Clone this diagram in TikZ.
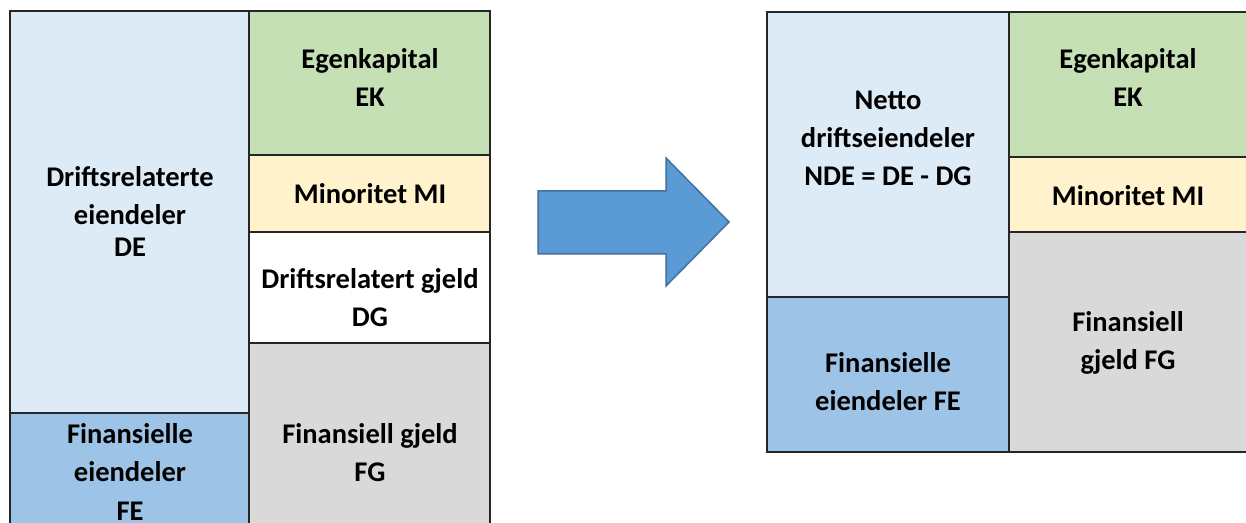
\documentclass[tikz,border=0pt]{standalone}
\usepackage{fontspec}
\setmainfont{Carlito}
\definecolor{delight}{RGB}{221,235,247}
\definecolor{fegreen}{RGB}{157,195,230}
\definecolor{ekgreen}{RGB}{197,224,180}
\definecolor{miyellow}{RGB}{255,242,204}
\definecolor{fggray}{RGB}{217,217,217}
\definecolor{arrowfill}{RGB}{91,155,213}
\definecolor{arrowline}{RGB}{65,113,156}
\tikzset{
  cell/.style={draw=black!85, line width=1.3bp},
  lbl/.style={align=center, inner sep=0pt, font=\fontsize{28.5bp}{38bp}\selectfont\bfseries}
}
\begin{document}
\begin{tikzpicture}[x=1bp,y=-1bp]
\useasboundingbox (0,0) rectangle (1246,523);
\clip (0,0) rectangle (1246,523);
% left balance sheet
\filldraw[cell, fill=delight] (10,11) rectangle (249,413);
\filldraw[cell, fill=fegreen] (10,413) rectangle (249,530);
\filldraw[cell, fill=ekgreen] (249,11) rectangle (490,155);
\filldraw[cell, fill=miyellow] (249,155) rectangle (490,232);
\filldraw[cell, fill=white] (249,232) rectangle (490,343);
\filldraw[cell, fill=fggray] (249,343) rectangle (490,530);
\node[lbl] (de) at (130,212) {Driftsrelaterte\\eiendeler\\[-6bp]DE};
\node[lbl] (fe) at (130,472) {Finansielle\\eiendeler\\FE};
\node[lbl] (ek) at (370,78) {Egenkapital\\EK};
\node[lbl] (mi) at (370,194) {Minoritet MI};
\node[lbl] (dg) at (370,298) {Driftsrelatert gjeld\\DG};
\node[lbl] (fg) at (370,453) {Finansiell gjeld\\FG};
% arrow
\filldraw[fill=arrowfill, draw=arrowline, line width=1.5bp]
  (538,191) -- (666,191) -- (666,158) -- (729,222) -- (666,286) -- (666,254) -- (538,254) -- cycle;
% right balance sheet
\filldraw[cell, fill=delight] (767,12) rectangle (1009,297);
\filldraw[cell, fill=fegreen] (767,297) rectangle (1009,452);
\filldraw[cell, fill=ekgreen] (1009,12) rectangle (1250,157);
\filldraw[cell, fill=miyellow] (1009,157) rectangle (1250,232);
\filldraw[cell, fill=fggray] (1009,232) rectangle (1250,452);
\node[lbl] (nde) at (888,138) {Netto\\driftseiendeler\\NDE = DE - DG};
\node[lbl] (fe2) at (888,382) {Finansielle\\eiendeler FE};
\node[lbl] (ek2) at (1128,78) {Egenkapital\\EK};
\node[lbl] (mi2) at (1128,196) {Minoritet MI};
\node[lbl] (fg2) at (1128,343) {Finansiell\\gjeld FG};
\end{tikzpicture}
\end{document}
